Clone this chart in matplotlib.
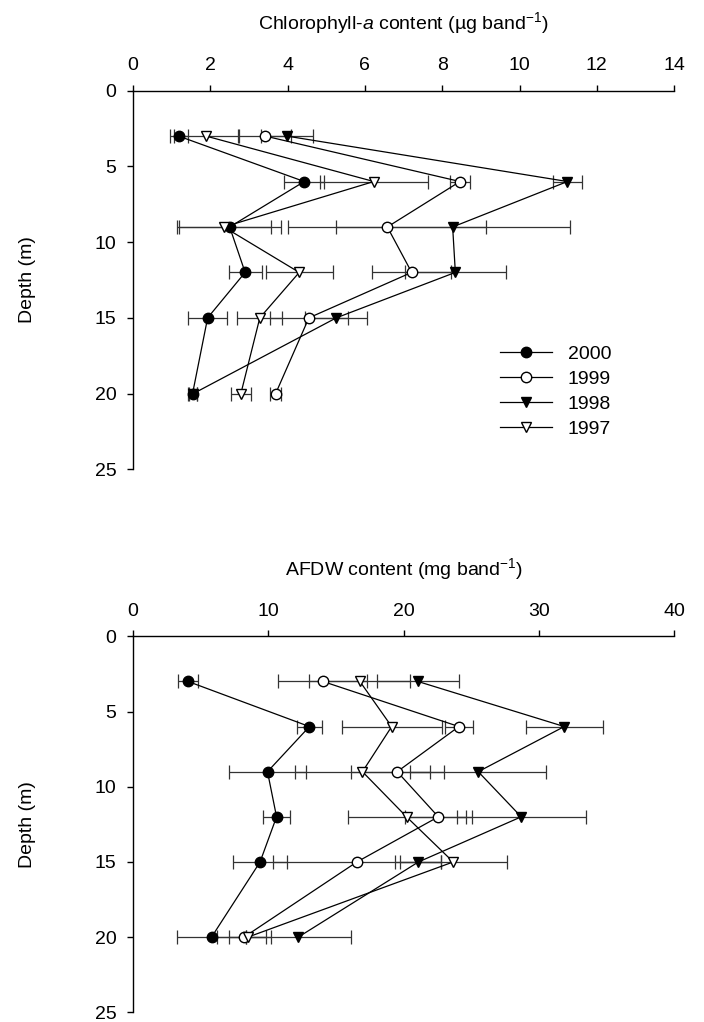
import matplotlib
matplotlib.use('Agg')
import matplotlib.pyplot as plt

plt.rcParams['font.family'] = ['Liberation Sans', 'DejaVu Sans']
plt.rcParams['mathtext.fontset'] = 'custom'
plt.rcParams['mathtext.rm'] = 'Liberation Sans'
plt.rcParams['mathtext.it'] = 'Liberation Sans:italic'

# Profundidades de muestreo (m)
depth = [3, 6, 9, 12, 15, 20]
years = ['2000', '1999', '1998', '1997']

# Clorofila-a (ug band-1): media y error
chl_2000 = [1.18, 4.43, 2.50, 2.90, 1.93, 1.54]
chl_1999 = [3.42, 8.46, 6.58, 7.21, 4.55, 3.69]
chl_1998 = [3.98, 11.24, 8.27, 8.34, 5.26, 1.56]
chl_1997 = [1.89, 6.23, 2.35, 4.30, 3.28, 2.79]
chl_err_2000 = [0.23, 0.52, 1.32, 0.43, 0.51, 0.12]
chl_err_1999 = [0.68, 0.25, 2.56, 1.03, 1.00, 0.14]
chl_err_1998 = [0.68, 0.37, 3.03, 1.31, 0.80, 0.10]
chl_err_1997 = [0.83, 1.39, 1.22, 0.87, 0.58, 0.25]

# AFDW (mg band-1): media y error
afdw_2000 = [4.06, 13.04, 9.94, 10.61, 9.39, 5.80]
afdw_1999 = [14.03, 24.09, 19.53, 22.57, 16.55, 8.20]
afdw_1998 = [21.05, 31.88, 25.52, 28.70, 21.10, 12.21]
afdw_1997 = [16.77, 19.12, 16.96, 20.22, 23.67, 8.48]
afdw_err_2000 = [0.75, 0.90, 2.84, 1.03, 2.00, 2.57]
afdw_err_1999 = [3.28, 1.05, 3.45, 2.49, 6.19, 2.00]
afdw_err_1998 = [3.04, 2.85, 5.02, 4.78, 1.70, 3.87]
afdw_err_1997 = [3.73, 3.70, 4.97, 4.36, 3.95, 1.38]

styles = [('o', 'k'), ('o', 'white'), ('v', 'k'), ('v', 'white')]
fs = 14

fig = plt.figure(figsize=(7.04, 10.22), dpi=100)
ax1 = fig.add_axes([0.189, 0.5408, 0.7685, 0.3705])
ax2 = fig.add_axes([0.189, 0.0094, 0.7685, 0.3680])


def panel(ax, series, errs, xmax, xstep, title):
    for (m, fc), vals, err, yr in zip(styles, series, errs, years):
        ax.errorbar(vals, depth, xerr=err, fmt='none', ecolor='0.2',
                    elinewidth=0.9, capsize=5, capthick=0.9, zorder=1)
        ax.plot(vals, depth, marker=m, color='k', mfc=fc, mec='k',
                ms=7.5, lw=0.9, label=yr, zorder=3)
    ax.set_xlim(0, xmax)
    ax.set_ylim(25, 0)
    ax.set_xticks(range(0, xmax + 1, xstep))
    ax.set_yticks(range(0, 26, 5))
    ax.xaxis.tick_top()
    ax.xaxis.set_label_position('top')
    ax.spines['right'].set_visible(False)
    ax.spines['bottom'].set_visible(False)
    for s in ['left', 'top']:
        ax.spines[s].set_linewidth(1.0)
    ax.tick_params(direction='out', length=4, width=1, labelsize=fs, pad=8)
    ax.set_xlabel(title, fontsize=fs, labelpad=20)
    ax.set_ylabel('Depth (m)', fontsize=fs)
    ax.yaxis.set_label_coords(-0.18, 0.5)


panel(ax1, [chl_2000, chl_1999, chl_1998, chl_1997],
      [chl_err_2000, chl_err_1999, chl_err_1998, chl_err_1997],
      14, 2, 'Chlorophyll-$\\it{a}$ content (\u00b5g band$^{\\mathrm{-1}}$)')
panel(ax2, [afdw_2000, afdw_1999, afdw_1998, afdw_1997],
      [afdw_err_2000, afdw_err_1999, afdw_err_1998, afdw_err_1997],
      40, 10, 'AFDW content (mg band$^{\\mathrm{-1}}$)')

ax1.legend(loc='center left', bbox_to_anchor=(0.66, 0.205), frameon=False,
           fontsize=fs, handlelength=2.7, handletextpad=0.8,
           labelspacing=0.38, borderpad=0)

plt.savefig('out.png', dpi=100)
